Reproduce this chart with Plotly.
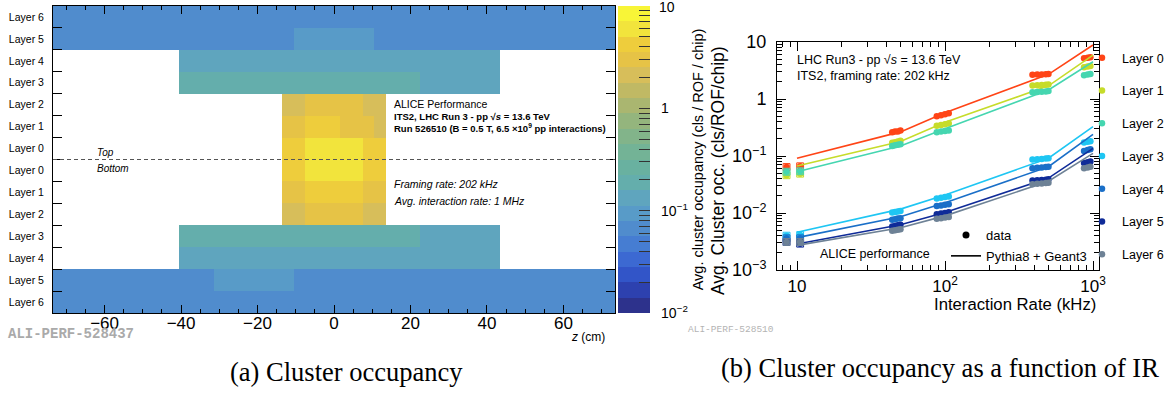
import math
import plotly.graph_objects as go

W, H = 1173, 394
SANS = "Liberation Sans, Arial, Helvetica, sans-serif"
SERIF = "Liberation Serif, Times New Roman, serif"
MONO = "Liberation Mono, Courier New, monospace"

# ---------------- left panel data: occupancy map ----------------
IB_EDGES = [-13.5, -10.5, -7.5, -4.5, -1.5, 1.5, 4.5, 7.5, 10.5, 13.5]   # 9 chips
ML_EDGES = [-40.5, -19.5, 1.5, 22.5, 43.5]                               # 4 modules
OL_EDGES = [-73.5, -52.5, -31.5, -10.5, 10.5, 31.5, 52.5, 73.5]          # 7 modules

# rows listed bottom -> top
ROW_LABELS = ["Layer 6", "Layer 5", "Layer 4", "Layer 3", "Layer 2", "Layer 1", "Layer 0",
              "Layer 0", "Layer 1", "Layer 2", "Layer 3", "Layer 4", "Layer 5", "Layer 6"]
OCC_L6_BOT = [0.062, 0.062, 0.062, 0.062, 0.062, 0.062, 0.062]
OCC_L5_BOT = [0.065, 0.065, 0.09, 0.065, 0.065, 0.065, 0.065]
OCC_L4_BOT = [0.13, 0.13, 0.13, 0.13]
OCC_L3_BOT = [0.18, 0.18, 0.18, 0.13]
OCC_L2_BOT = [1.9, 1.9, 2.8, 2.8, 2.8, 2.8, 2.8, 1.9, 1.9]
OCC_L1_BOT = [2.8, 2.8, 4.0, 4.0, 4.0, 4.0, 4.0, 2.8, 2.8]
OCC_L0_BOT = [4.0, 4.0, 6.2, 6.2, 6.2, 6.2, 6.2, 4.0, 4.0]
OCC_L0_TOP = [4.0, 4.0, 6.2, 6.2, 6.2, 6.2, 6.2, 4.0, 4.0]
OCC_L1_TOP = [2.8, 2.8, 4.0, 4.0, 4.0, 2.8, 2.8, 2.8, 1.9]
OCC_L2_TOP = [1.9, 1.9, 2.8, 2.8, 2.8, 2.8, 2.8, 1.9, 1.9]
OCC_L3_TOP = [0.18, 0.18, 0.18, 0.13]
OCC_L4_TOP = [0.13, 0.13, 0.13, 0.13]
OCC_L5_TOP = [0.065, 0.065, 0.065, 0.09, 0.065, 0.065, 0.065]
OCC_L6_TOP = [0.062, 0.062, 0.062, 0.062, 0.062, 0.062, 0.062]

ROWS = [(OL_EDGES, OCC_L6_BOT), (OL_EDGES, OCC_L5_BOT), (ML_EDGES, OCC_L4_BOT),
        (ML_EDGES, OCC_L3_BOT), (IB_EDGES, OCC_L2_BOT), (IB_EDGES, OCC_L1_BOT),
        (IB_EDGES, OCC_L0_BOT), (IB_EDGES, OCC_L0_TOP), (IB_EDGES, OCC_L1_TOP),
        (IB_EDGES, OCC_L2_TOP), (ML_EDGES, OCC_L3_TOP), (ML_EDGES, OCC_L4_TOP),
        (OL_EDGES, OCC_L5_TOP), (OL_EDGES, OCC_L6_TOP)]

# 20-level palette (bottom -> top), log10 occupancy from -2 to 1
BAND_COLORS = ["rgb(45,50,140)", "rgb(45,65,175)", "rgb(50,85,200)", "rgb(60,105,210)",
               "rgb(70,125,210)", "rgb(80,140,205)", "rgb(88,155,200)", "rgb(95,165,190)",
               "rgb(100,174,172)", "rgb(105,177,160)", "rgb(115,179,150)", "rgb(130,180,138)",
               "rgb(148,181,125)", "rgb(170,182,112)", "rgb(192,185,100)", "rgb(215,190,90)",
               "rgb(230,195,70)", "rgb(238,205,60)", "rgb(242,228,60)", "rgb(248,245,55)"]

# ---------------- right panel data: occupancy vs interaction rate ----------------
LAYERS = ["Layer 0", "Layer 1", "Layer 2", "Layer 3", "Layer 4", "Layer 5", "Layer 6"]
LAYER_COLORS = ["#ff4416", "#c6dc2a", "#45d6b0", "#1ec6f3", "#1a6fc8", "#0f2b98", "#6e8296"]

MC_RATE = [10, 50, 100, 500, 1000]
MC_OCC = [
    [0.091, 0.265, 0.575, 2.71, 8.85],
    [0.067, 0.180, 0.390, 1.70, 5.90],
    [0.053, 0.150, 0.300, 1.44, 4.50],
    [0.0046, 0.0117, 0.0207, 0.0915, 0.327],
    [0.0037, 0.0086, 0.0151, 0.065, 0.240],
    [0.00285, 0.0062, 0.0102, 0.041, 0.136],
    [0.0027, 0.0055, 0.0089, 0.036, 0.111],
]

DATA_RATE = [8.5, 10.5, 44, 46, 48, 50, 88, 94, 100, 106, 390, 420, 450, 480, 500, 870, 920, 960]
DATA_OCC = [
    [0.064, 0.066, 0.26, 0.27, 0.27, 0.28, 0.50, 0.52, 0.54, 0.56, 2.65, 2.68, 2.70, 2.72, 2.74, 5.2, 5.3, 5.4],
    [0.046, 0.049, 0.17, 0.175, 0.18, 0.185, 0.34, 0.35, 0.36, 0.37, 1.72, 1.74, 1.76, 1.78, 1.80, 3.6, 3.7, 3.8],
    [0.053, 0.054, 0.15, 0.155, 0.158, 0.16, 0.26, 0.27, 0.275, 0.28, 1.32, 1.33, 1.34, 1.36, 1.38, 2.6, 2.7, 2.75],
    [0.0040, 0.0041, 0.0102, 0.0104, 0.0106, 0.0108, 0.018, 0.0185, 0.019, 0.0195, 0.087, 0.088, 0.089, 0.090, 0.091, 0.172, 0.178, 0.182],
    [0.0036, 0.0036, 0.0076, 0.0078, 0.0080, 0.0081, 0.0133, 0.0136, 0.0139, 0.0142, 0.061, 0.062, 0.063, 0.064, 0.065, 0.123, 0.127, 0.131],
    [0.0031, 0.0029, 0.0058, 0.0059, 0.0061, 0.0062, 0.0095, 0.0098, 0.0100, 0.0103, 0.037, 0.0375, 0.038, 0.0385, 0.039, 0.075, 0.078, 0.080],
    [0.0031, 0.0031, 0.0049, 0.0050, 0.0051, 0.0052, 0.0079, 0.0081, 0.0083, 0.0085, 0.032, 0.0325, 0.033, 0.0335, 0.034, 0.061, 0.063, 0.065],
]
BOX_RATES = [8.5, 10.5]      # low-rate points drawn with systematic boxes
BOX_HALF_W = 1.055           # multiplicative half width / height of boxes
BOX_HALF_H = 1.15


def px(x):
    return x / W


def py(y):
    return 1 - y / H


fig = go.Figure()

# ---------- heatmap ----------
x_edges = sorted(set(IB_EDGES + ML_EDGES + OL_EDGES))
y_edges = [i - 0.5 for i in range(len(ROWS) + 1)]
z = []
for seg_edges, vals in ROWS:
    row = []
    for a, b in zip(x_edges[:-1], x_edges[1:]):
        c = 0.5 * (a + b)
        v = None
        for i, val in enumerate(vals):
            if seg_edges[i] <= c < seg_edges[i + 1]:
                v = math.log10(val)
        row.append(v)
    z.append(row)

n = len(BAND_COLORS)
cscale = []
for i, col in enumerate(BAND_COLORS):
    cscale.append([i / n, col])
    cscale.append([(i + 1) / n, col])

NB = "\u00a0\u00a0"
cb_vals, cb_text = [], []
for dec in [0.01, 0.1, 1]:
    for m in range(1, 10):
        cb_vals.append(math.log10(m * dec))
        lab = {0.01: "10<sup>\u22122</sup>", 0.1: "10<sup>\u22121</sup>", 1: "1"}[dec]
        cb_text.append(NB + lab if m == 1 else "")

fig.add_trace(go.Heatmap(
    x=x_edges, y=y_edges, z=z, zmin=-2, zmax=1, colorscale=cscale,
    xaxis="x", yaxis="y", hoverinfo="skip",
    colorbar=dict(
        x=px(618), xanchor="left", y=py(159.5), yanchor="middle",
        len=307, lenmode="pixels", thickness=32, thicknessmode="pixels",
        xpad=0, ypad=0, outlinewidth=0,
        ticks="inside", ticklen=11, tickcolor="#333", tickwidth=1,
        tickvals=cb_vals, ticktext=cb_text,
        tickfont=dict(family=SANS, size=14, color="black"),
        title=dict(text="Avg. cluster occupancy (cls / ROF / chip)", side="right",
                   font=dict(family=SANS, size=14.5, color="black")),
    ),
))

# ---------- right panel ----------
for li, name in enumerate(LAYERS):
    col = LAYER_COLORS[li]
    fig.add_trace(go.Scatter(
        x=MC_RATE, y=MC_OCC[li], mode="lines", line=dict(color=col, width=1.6),
        xaxis="x2", yaxis="y2", showlegend=False, legendgroup=name, hoverinfo="skip"))
    bx, by = [], []
    for r, v in zip(DATA_RATE, DATA_OCC[li]):
        if r in BOX_RATES:
            x0, x1 = r / BOX_HALF_W, r * BOX_HALF_W
            y0, y1 = v / BOX_HALF_H, v * BOX_HALF_H
            bx += [x0, x1, x1, x0, x0, None]
            by += [y0, y0, y1, y1, y0, None]
    fig.add_trace(go.Scatter(
        x=bx, y=by, mode="lines", line=dict(color=col, width=1),
        xaxis="x2", yaxis="y2", showlegend=False, legendgroup=name, hoverinfo="skip"))
    fig.add_trace(go.Scatter(
        x=DATA_RATE, y=DATA_OCC[li], mode="markers", name=name,
        marker=dict(color=col, size=6.5, symbol="circle"),
        xaxis="x2", yaxis="y2", legend="legend", legendgroup=name))

fig.add_trace(go.Scatter(x=[None], y=[None], mode="markers", name="data",
                         marker=dict(color="black", size=7), xaxis="x2", yaxis="y2",
                         legend="legend2", legendgroup="d"))
fig.add_trace(go.Scatter(x=[None], y=[None], mode="lines", name="Pythia8 + Geant3",
                         line=dict(color="black", width=1.6), xaxis="x2", yaxis="y2",
                         legend="legend2", legendgroup="m"))

minor_x = [8, 9, 20, 30, 40, 50, 60, 70, 80, 90, 200, 300, 400, 500, 600, 700, 800, 900]
minor_y = []
for dec in [0.001, 0.01, 0.1, 1]:
    for m in range(2, 10):
        minor_y.append(m * dec)

frame = dict(showline=True, linecolor="black", linewidth=1, mirror="allticks",
             showgrid=False, zeroline=False, tickcolor="black")

fig.update_layout(
    width=W, height=H, margin=dict(l=0, r=0, t=0, b=0, autoexpand=False),
    paper_bgcolor="white", plot_bgcolor="white",
    font=dict(family=SANS, color="black"),
    xaxis=dict(domain=[px(53), px(615)], range=[-73.5, 73.5], anchor="y",
               tickvals=[-60, -40, -20, 0, 20, 40, 60], ticks="inside", ticklen=8,
               minor=dict(dtick=5, tick0=0, ticks="inside", ticklen=4, tickcolor="black"),
               tickfont=dict(size=17), ticklabelstandoff=-5, **frame),
    yaxis=dict(domain=[py(313), py(6)], range=[-0.5, 13.5], anchor="x",
               tickvals=list(range(14)), ticktext=ROW_LABELS, ticks="", ticklen=0,
               minor=dict(tickvals=[i + 0.5 for i in range(13)], ticks="inside",
                          ticklen=9, tickcolor="black"),
               tickfont=dict(size=10.5), ticklabelstandoff=6, **frame),
    xaxis2=dict(domain=[px(777), px(1099)], type="log", range=[0.8649, 3.0405], anchor="y2",
                tickvals=[10, 100, 1000], ticktext=["10", "10<sup>2</sup>", "10<sup>3</sup>"],
                ticks="inside", ticklen=9,
                minor=dict(tickvals=minor_x, ticks="inside", ticklen=5, tickcolor="black"),
                tickfont=dict(size=17), ticklabelstandoff=1, **frame),
    yaxis2=dict(domain=[py(270), py(42)], type="log", range=[-3, 1], anchor="x2",
                tickvals=[0.001, 0.01, 0.1, 1, 10],
                ticktext=["10<sup>\u22123</sup>", "10<sup>\u22122</sup>", "10<sup>\u22121</sup>", "1", "10"],
                ticks="inside", ticklen=9,
                minor=dict(tickvals=minor_y, ticks="inside", ticklen=5, tickcolor="black"),
                tickfont=dict(size=18), ticklabelstandoff=6, **frame),
    legend=dict(x=px(1082), y=py(43), xanchor="left", yanchor="top",
                font=dict(size=12.5), tracegroupgap=13.5, bgcolor="rgba(0,0,0,0)",
                itemwidth=30),
    legend2=dict(x=px(946), y=py(220), xanchor="left", yanchor="top",
                 font=dict(size=13), tracegroupgap=1, bgcolor="rgba(0,0,0,0)",
                 itemwidth=30),
)

# dashed separator between top and bottom half-barrels
fig.add_shape(type="line", xref="x", yref="y", x0=-73.5, x1=73.5, y0=6.5, y1=6.5,
              line=dict(color="#555", width=1.2, dash="4px,3px"))

ann = []
def A(text, x, y, xref="paper", yref="paper", xanchor="left", size=10, family=SANS,
      color="black", yanchor="middle", angle=0):
    ann.append(dict(text=text, x=x, y=y, xref=xref, yref=yref, xanchor=xanchor,
                    yanchor=yanchor, showarrow=False, textangle=angle,
                    font=dict(size=size, family=family, color=color)))

# left panel texts (data coords)
A("<i>Top</i>", -62.5, 6.84, "x", "y", size=10)
A("<i>Bottom</i>", -62.5, 6.11, "x", "y", size=10)
A("ALICE Performance", 15.3, 9.03, "x", "y", size=10.5)
A("<b>ITS2, LHC Run 3 - pp \u221a<i>s</i> = 13.6 TeV</b>", 15.3, 8.44, "x", "y", size=9.5)
A("<b>Run 526510 (B = 0.5 T, 6.5 \u00d710<sup>9</sup> pp interactions)</b>", 15.3, 7.94, "x", "y", size=9.5)
A("<i>Framing rate: 202 kHz</i>", 15.3, 5.38, "x", "y", size=10.5)
A("<i>Avg. interaction rate: 1 MHz</i>", 15.3, 4.61, "x", "y", size=10.5)
A("<i>z</i> (cm)", px(569), py(337), size=12)
A("<b>ALI-PERF-528437</b>", px(6), py(334), size=14, family=MONO, color="#aaaaaa")
A("ALI-PERF-528510", px(686), py(329), size=9.5, family=MONO, color="#b4b4b4")
# top label of the colour scale
A("10", px(657), py(7), size=14)

# right panel texts
A("LHC Run3 - pp \u221a<i>s</i> = 13.6 TeV", px(795), py(60), size=12.5)
A("ITS2, framing rate: 202 kHz", px(795), py(76), size=12.5)
A("ALICE performance", px(818), py(254), size=12.5)
# axis titles (ROOT style: aligned to the axis end)
A("Interaction Rate (kHz)", px(1098), py(304), xanchor="right", size=16.7)
A("Avg. Cluster occ. (cls/ROF/chip)", px(718), py(170), xanchor="center", size=17.5, angle=-90)

# captions
A("(a) Cluster occupancy", px(346), py(372), xanchor="center", size=26.5, family=SERIF)
A("(b) Cluster occupancy as a function of IR", px(940), py(368), xanchor="center", size=26.5, family=SERIF)

fig.update_layout(annotations=ann)
fig.write_html("out.html", config={"displayModeBar": False},
               post_script="document.body.style.margin='0';")
